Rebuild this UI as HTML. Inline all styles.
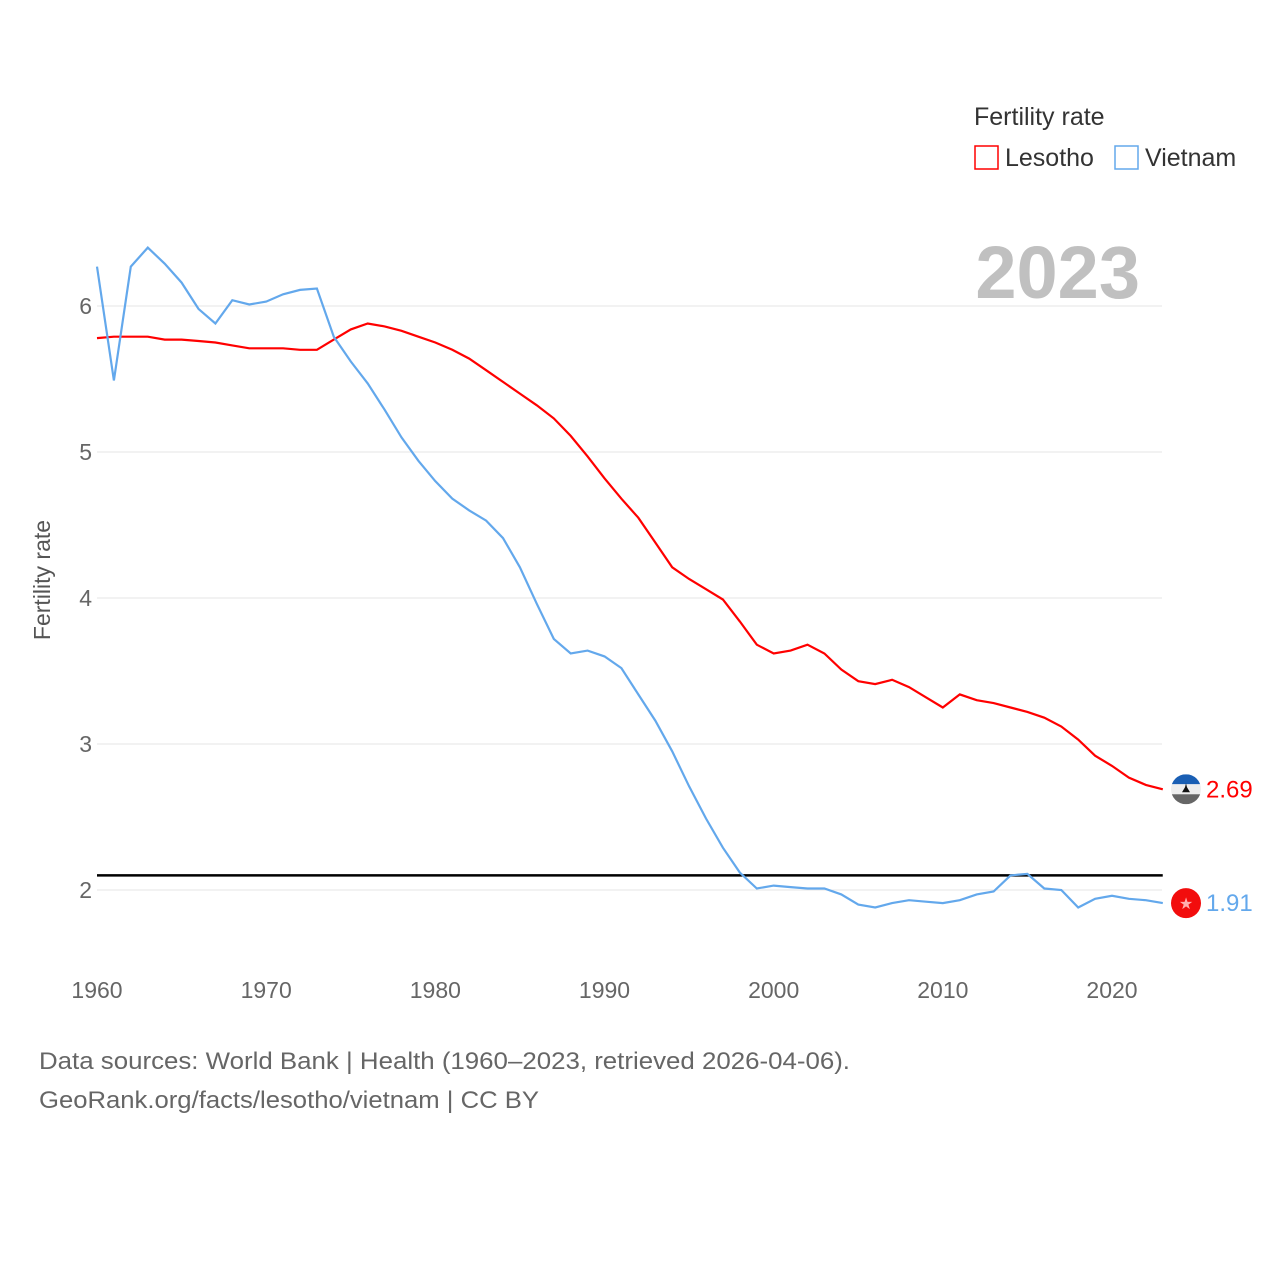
<!DOCTYPE html>
<html><head><meta charset="utf-8">
<style>
body{margin:0;background:#fff;font-family:"Liberation Sans",sans-serif;}
svg text{font-family:"Liberation Sans",sans-serif;}
</style></head>
<body>
<svg width="1280" height="1280" viewBox="0 0 1280 1280">
<defs>
<clipPath id="cl"><circle cx="1186" cy="789" r="15"/></clipPath>
</defs>
<g id="grid"></g>
<g id="yticks"></g>
<g id="xticks"></g>
<text x="50" y="580" transform="rotate(-90 50 580)" text-anchor="middle" font-size="23" fill="#555">Fertility rate</text>
<text x="1140" y="298" text-anchor="end" font-size="74" font-weight="bold" fill="#c0c0c0">2023</text>
<line id="repl" stroke="#000" stroke-width="2.5"/>
<path id="lesotho" fill="none" stroke="#ff0000" stroke-width="2.2"/>
<path id="vietnam" fill="none" stroke="#63a8ec" stroke-width="2.2"/>
<g id="ends"></g>
<text x="974" y="125" font-size="25" fill="#333">Fertility rate</text>
<g>
<rect x="975" y="146" width="23" height="23" fill="none" stroke="#ff0000" stroke-width="1.5"/>
<text x="1005" y="166" font-size="25" fill="#333">Lesotho</text></g>
<g>
<rect x="1115" y="146" width="23" height="23" fill="none" stroke="#63a8ec" stroke-width="1.5"/>
<text x="1145" y="166" font-size="25" fill="#333">Vietnam</text></g>
<text x="39" y="1069" font-size="24" fill="#666" textLength="811" lengthAdjust="spacingAndGlyphs">Data sources: World Bank | Health (1960–2023, retrieved 2026-04-06).</text>
<text x="39" y="1108" font-size="24" fill="#666" textLength="500" lengthAdjust="spacingAndGlyphs">GeoRank.org/facts/lesotho/vietnam | CC BY</text>
</svg>
<script>
const years=[];for(let y=1960;y<=2023;y++)years.push(y);
const lesotho=[5.78,5.79,5.79,5.79,5.77,5.77,5.76,5.75,5.73,5.71,5.71,5.71,5.70,5.70,5.77,5.84,5.88,5.86,5.83,5.79,5.75,5.70,5.64,5.56,5.48,5.40,5.32,5.23,5.11,4.97,4.82,4.68,4.55,4.38,4.21,4.13,4.06,3.99,3.84,3.68,3.62,3.64,3.68,3.62,3.51,3.43,3.41,3.44,3.39,3.32,3.25,3.34,3.30,3.28,3.25,3.22,3.18,3.12,3.03,2.92,2.85,2.77,2.72,2.69];
const vietnam=[6.27,5.49,6.27,6.40,6.29,6.16,5.98,5.88,6.04,6.01,6.03,6.08,6.11,6.12,5.79,5.62,5.47,5.29,5.10,4.94,4.80,4.68,4.60,4.53,4.41,4.21,3.96,3.72,3.62,3.64,3.60,3.52,3.34,3.16,2.95,2.71,2.49,2.29,2.12,2.01,2.03,2.02,2.01,2.01,1.97,1.90,1.88,1.91,1.93,1.92,1.91,1.93,1.97,1.99,2.10,2.11,2.01,2.00,1.88,1.94,1.96,1.94,1.93,1.91];
const yTicks=[2,3,4,5,6];
const xTicks=[1960,1970,1980,1990,2000,2010,2020];
const replacement=2.1;
const NS="http://www.w3.org/2000/svg";
const X=y=>97+(y-1960)*(1015/60);
const Y=v=>890-(v-2)*146;
function mk(t,a,p){const e=document.createElementNS(NS,t);for(const k in a)e.setAttribute(k,a[k]);p.appendChild(e);return e;}
const grid=document.getElementById('grid'),yt=document.getElementById('yticks'),xt=document.getElementById('xticks');
yTicks.forEach(v=>{
 const l=mk('line',{x1:97,x2:1162,y1:Y(v),y2:Y(v),stroke:'#e6e6e6','stroke-width':1},grid);
 
 
 const t=mk('text',{x:92,y:Y(v)+8,'text-anchor':'end','font-size':23,fill:'#666'},yt);
 t.textContent=v;
 
 
});
xTicks.forEach(v=>{
 const t=mk('text',{x:X(v),y:998,'text-anchor':'middle','font-size':23,fill:'#666'},xt);
 t.textContent=v;
 
 
});
const r=document.getElementById('repl');
r.setAttribute('x1',X(1960));r.setAttribute('x2',X(2023));r.setAttribute('y1',Y(replacement));r.setAttribute('y2',Y(replacement));
const path=a=>a.map((v,i)=>(i?'L':'M')+X(years[i]).toFixed(1)+','+Y(v).toFixed(1)).join('');
document.getElementById('lesotho').setAttribute('d',path(lesotho));
document.getElementById('vietnam').setAttribute('d',path(vietnam));
const ends=document.getElementById('ends');
const ly=Y(lesotho[lesotho.length-1]),vy=Y(vietnam[vietnam.length-1]);
const fl=mk('g',{},ends);


fl.setAttribute('transform','translate(0,'+(ly-789)+')');
mk('rect',{x:1171,y:774,width:30,height:10,fill:'#1a5fb4','clip-path':'url(#cl)'},fl);
mk('rect',{x:1171,y:784,width:30,height:10,fill:'#eee','clip-path':'url(#cl)'},fl);
mk('rect',{x:1171,y:794,width:30,height:10,fill:'#666','clip-path':'url(#cl)'},fl);
mk('path',{d:'M1182,792 L1190,792 L1187,787 L1186,783 L1185,787 Z',fill:'#111'},fl);
const vf=mk('g',{},ends);


mk('circle',{cx:1186,cy:vy,r:15,fill:'#f20d0d'},vf);
const st=mk('text',{x:1186,y:vy+6,'text-anchor':'middle','font-size':16,fill:'#ffb0b0'},vf);st.textContent='★';
const lt=mk('text',{x:1206,y:ly+8,'font-size':24,fill:'#ff0000'},ends);
lt.textContent=lesotho[lesotho.length-1].toFixed(2);


const vt=mk('text',{x:1206,y:vy+8,'font-size':24,fill:'#63a8ec'},ends);
vt.textContent=vietnam[vietnam.length-1].toFixed(2);


</script>
</body></html>
